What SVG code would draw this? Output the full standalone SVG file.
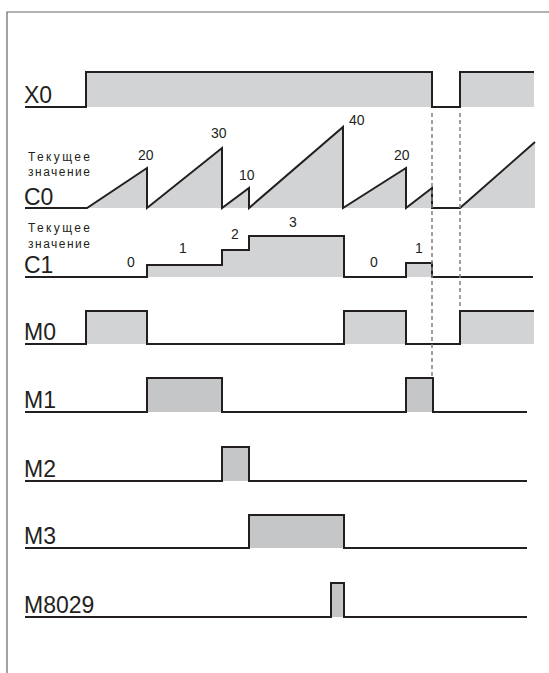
<svg xmlns="http://www.w3.org/2000/svg" width="549" height="673" viewBox="0 0 549 673">
<style>
.sig{fill:none;stroke:#231f20;stroke-width:2;stroke-linejoin:miter}
.f1{fill:#d1d3d4;stroke:none}
.f2{fill:#c5c6c8;stroke:none}
.lbl{font-family:"Liberation Sans",Arial,sans-serif;font-size:23px;fill:#231f20}
.sm{font-family:"Liberation Sans",Arial,sans-serif;font-size:12px;fill:#231f20}
.num{font-family:"Liberation Sans",Arial,sans-serif;font-size:14px;fill:#231f20}
.dash{fill:none;stroke:#808080;stroke-width:1.5;stroke-dasharray:4 3}
</style>
<rect x="0" y="0" width="549" height="673" fill="#ffffff"/>
<path d="M7,673 V12 H549" fill="none" stroke="#666666" stroke-width="1.2"/>
<g id="X0">
<rect class="f1" x="86" y="72" width="346" height="35"/>
<rect class="f1" x="460" y="72" width="74" height="35"/>
<polyline class="sig" points="25,107 86,107 86,72 432,72 432,107 460,107 460,72 534,72"/>
<text class="lbl" x="24" y="103">X0</text>
</g>
<g id="C0">
<polygon class="f1" points="87,208 147,168 147,208 222,148 222,208 249,188 249,208 343,127 343,208 406,168 406,208 432,188 432,208"/>
<polygon class="f1" points="460,208 535,142 535,208"/>
<polyline class="sig" points="25,208 87,208 147,168 147,208 222,148 222,208 249,188 249,208 343,127 343,208 406,168 406,208 432,188 432,208 460,208 535,142"/>
<text class="sm" x="28" y="161" textLength="62" lengthAdjust="spacing">Текущее</text>
<text class="sm" x="28" y="176" textLength="62" lengthAdjust="spacing">значение</text>
<text class="lbl" x="24" y="205">C0</text>
<text class="num" x="138" y="160">20</text>
<text class="num" x="211" y="138">30</text>
<text class="num" x="239" y="180">10</text>
<text class="num" x="349" y="125">40</text>
<text class="num" x="394" y="160">20</text>
</g>
<g id="C1">
<polygon class="f1" points="147,277 147,265 222,265 222,250 249,250 249,236 344,236 344,277"/>
<rect class="f1" x="406" y="263" width="26" height="14"/>
<polyline class="sig" points="25,277 147,277 147,265 222,265 222,250 249,250 249,236 344,236 344,277 406,277 406,263 432,263 432,277 533,277"/>
<text class="sm" x="28" y="232" textLength="62" lengthAdjust="spacing">Текущее</text>
<text class="sm" x="28" y="248" textLength="62" lengthAdjust="spacing">значение</text>
<text class="lbl" x="24" y="273">C1</text>
<text class="num" x="127" y="267">0</text>
<text class="num" x="179" y="253">1</text>
<text class="num" x="231" y="239">2</text>
<text class="num" x="289" y="227">3</text>
<text class="num" x="370" y="267">0</text>
<text class="num" x="415" y="253">1</text>
</g>
<g id="M0">
<rect class="f1" x="86" y="311" width="61" height="33"/>
<rect class="f1" x="344" y="311" width="62" height="33"/>
<rect class="f1" x="460" y="311" width="74" height="33"/>
<polyline class="sig" points="25,344 86,344 86,311 147,311 147,344 344,344 344,311 406,311 406,344 460,344 460,311 534,311"/>
<text class="lbl" x="24" y="340">M0</text>
</g>
<g id="M1">
<rect class="f2" x="147" y="378" width="75" height="34"/>
<rect class="f2" x="406" y="378" width="27" height="34"/>
<polyline class="sig" points="25,412 147,412 147,378 222,378 222,412 406,412 406,378 433,378 433,412 527,412"/>
<text class="lbl" x="24" y="408">M1</text>
</g>
<g id="M2">
<rect class="f2" x="222" y="447" width="27" height="34"/>
<polyline class="sig" points="25,481 222,481 222,447 249,447 249,481 527,481"/>
<text class="lbl" x="24" y="477">M2</text>
</g>
<g id="M3">
<rect class="f2" x="249" y="515" width="95" height="33"/>
<polyline class="sig" points="25,548 249,548 249,515 344,515 344,548 527,548"/>
<text class="lbl" x="24" y="544">M3</text>
</g>
<g id="M8029">
<rect class="f2" x="331" y="583" width="13" height="34"/>
<polyline class="sig" points="25,617 331,617 331,583 344,583 344,617 527,617"/>
<text class="lbl" x="24" y="613">M8029</text>
</g>
<g id="connectors">
<line class="dash" x1="432" y1="113" x2="432" y2="376"/>
<line class="dash" x1="460" y1="113" x2="460" y2="309"/>
</g>
</svg>
